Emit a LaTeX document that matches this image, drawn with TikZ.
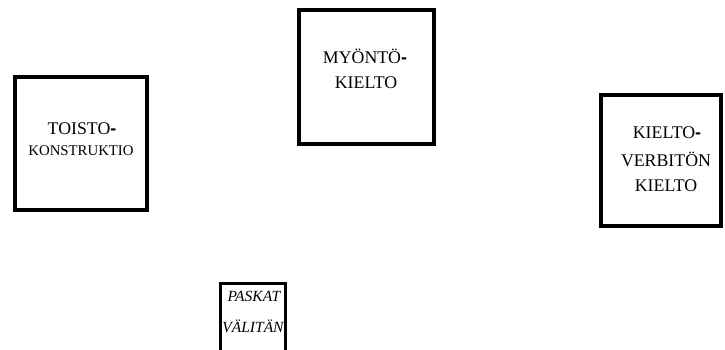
\documentclass[tikz,border=0pt]{standalone}
\usepackage{fontspec}
\setmainfont{Liberation Serif}
\newfontfamily\dashfont{Liberation Sans}
\newcommand{\hdash}{{\dashfont\bfseries -}}
\begin{document}
\begin{tikzpicture}[x=1pt,y=-1pt,
  box/.style={draw,line width=3.5pt,rectangle,inner sep=0pt},
  big/.style={anchor=base,inner sep=0pt,font=\fontsize{17.8}{20}\selectfont},
  small/.style={anchor=base,inner sep=0pt,font=\fontsize{14.8}{17}\selectfont},
  ital/.style={anchor=base,inner sep=0pt,font=\fontsize{15.5}{18}\selectfont\itshape}]
\useasboundingbox (0,0) rectangle (725,349);
% boxes
\node[box,minimum width=132pt,minimum height=133pt] (b1) at (81,143.5) {};
\node[box,minimum width=135pt,minimum height=134pt] (b2) at (366.5,77) {};
\node[box,minimum width=120pt,minimum height=131pt] (b3) at (661,160.5) {};
\node[box,line width=3pt,minimum width=65pt,minimum height=70pt] (b4) at (252.5,318) {};
% texts
\node[big] (t1a) at (82,134.5) {TOISTO\hdash};
\node[small] (t1b) at (81,155) {KONSTRUKTIO};
\node[big] (t2a) at (365,63.5) {MYÖNTÖ\hdash};
\node[big] (t2b) at (366,88.5) {KIELTO};
\node[big] (t3a) at (667,138) {KIELTO\hdash};
\node[big] (t3b) at (666,166) {VERBITÖN};
\node[big] (t3c) at (666,191) {KIELTO};
\node[ital] (t4a) at (254,301.5) {PASKAT};
\node[ital] (t4b) at (253,332) {VÄLITÄN};
\end{tikzpicture}
\end{document}
